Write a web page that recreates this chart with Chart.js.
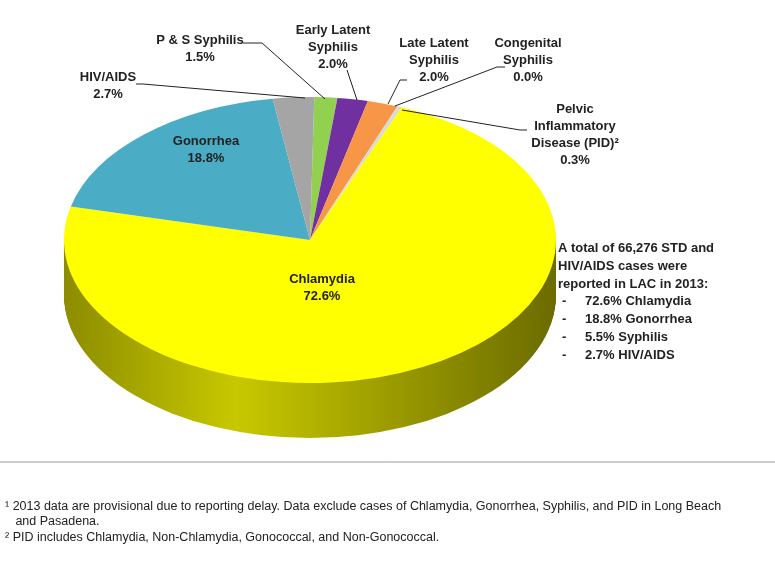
<!DOCTYPE html>
<html><head><meta charset="utf-8">
<script src="https://cdn.jsdelivr.net/npm/chart.js@4"></script>
<style>html,body{margin:0;padding:0;background:#fff}#w{width:775px;height:569px;position:relative}</style>
</head><body><div id="w"><canvas id="c"></canvas></div>
<script>
const categories=["P & S Syphilis","Early Latent Syphilis","Late Latent Syphilis","Pelvic Inflammatory Disease (PID)","Congenital Syphilis","Chlamydia","Gonorrhea","HIV/AIDS"];
const values=[1.5,2.0,2.0,0.3,0.0,72.6,18.8,2.7];
const topColors=["#92D050","#7030A0","#F79646","#D9D9D9","#C0504D","#FFFF00","#4BACC6","#A5A5A5"];
const sideColors=["#5E8A2A","#4A1E6B","#B5662A","#999999","#803030","#9A9A00","#2F7A8E","#6E6E6E"];
const summary=["A total of 66,276 STD and","HIV/AIDS cases were","reported in LAC in 2013:"];
const summaryItems=["72.6% Chlamydia","18.8% Gonorrhea","5.5% Syphilis","2.7% HIV/AIDS"];
const CX=310,CY=240,RY=143,DEPTH=55;
function ell(ctx,a){ctx.translate(CX,CY);ctx.scale(1,RY/a.outerRadius);ctx.translate(-a.x,-a.y);}
const pie3d={id:'pie3d',
beforeDatasetsDraw(chart){
 const ctx=chart.ctx,meta=chart.getDatasetMeta(0);
 meta.data.forEach((a,i)=>{
  let s=Math.max(a.startAngle,0),e=Math.min(a.endAngle,Math.PI);
  if(e<=s)return;
  let g=ctx.createLinearGradient(CX-a.outerRadius,0,CX+a.outerRadius,0);
  if(i==5){g.addColorStop(0,'#8C8C00');g.addColorStop(0.35,'#C8C800');g.addColorStop(1,'#6B6B00');}
  else{g.addColorStop(0,sideColors[i]);g.addColorStop(1,sideColors[i]);}
  for(let k=DEPTH;k>0;k--){
   ctx.save();ctx.translate(0,k);ell(ctx,a);
   ctx.beginPath();ctx.moveTo(a.x,a.y);ctx.arc(a.x,a.y,a.outerRadius,s,e);ctx.closePath();
   ctx.restore();ctx.fillStyle=g;ctx.fill();
  }
 });
 ctx.save();ell(ctx,meta.data[0]);
},
afterDatasetsDraw(chart){
 const ctx=chart.ctx;ctx.restore();
 ctx.save();
 ctx.fillStyle='#222';ctx.font='bold 13px "Liberation Sans",Arial';ctx.textAlign='center';ctx.textBaseline='middle';
 const T=(x,y,lines)=>lines.forEach((l,j)=>ctx.fillText(l,x,y+j*17));
 T(200,40,["P & S Syphilis","1.5%"]);
 T(333,30,["Early Latent","Syphilis","2.0%"]);
 T(434,43,["Late Latent","Syphilis","2.0%"]);
 T(528,43,["Congenital","Syphilis","0.0%"]);
 T(575,109,["Pelvic","Inflammatory","Disease (PID)²","0.3%"]);
 T(108,77,["HIV/AIDS","2.7%"]);
 T(206,141,["Gonorrhea","18.8%"]);
 T(322,279,["Chlamydia","72.6%"]);
 ctx.strokeStyle='#222';ctx.lineWidth=1;
 const L=(p)=>{ctx.beginPath();ctx.moveTo(p[0],p[1]);for(let i=2;i<p.length;i+=2)ctx.lineTo(p[i],p[i+1]);ctx.stroke();};
 L([243,43,262,43,325,99]);L([347,70,357,100]);L([407,80,400,80,388,104]);
 L([505,67,497,67,395,106]);L([527,130,520,130,402,110]);L([136,84,143,84,305,98]);
 ctx.textAlign='left';
 summary.forEach((l,j)=>ctx.fillText(l,558,248+j*18));
 summaryItems.forEach((l,j)=>{ctx.fillText('-',562,301+j*18);ctx.fillText(l,585,301+j*18);});
 ctx.strokeStyle='#999';L([0,462,775,462]);
 ctx.font='12.5px "Liberation Sans",Arial';ctx.fillStyle='#222';
 ctx.fillText('¹ 2013 data are provisional due to reporting delay. Data exclude cases of Chlamydia, Gonorrhea, Syphilis, and PID in Long Beach',5,507);
 ctx.fillText('   and Pasadena.',5,522);
 ctx.fillText('² PID includes Chlamydia, Non-Chlamydia, Gonococcal, and Non-Gonococcal.',5,538);
 ctx.restore();
}};
new Chart(document.getElementById('c'),{type:'pie',
data:{labels:categories,datasets:[{data:values,backgroundColor:topColors,borderWidth:0}]},
options:{responsive:true,maintainAspectRatio:false,animation:false,rotation:1,
layout:{padding:{left:64,right:219,top:0,bottom:77}},
plugins:{legend:{display:false},tooltip:{enabled:false}}},
plugins:[pie3d]});
</script></body></html>
